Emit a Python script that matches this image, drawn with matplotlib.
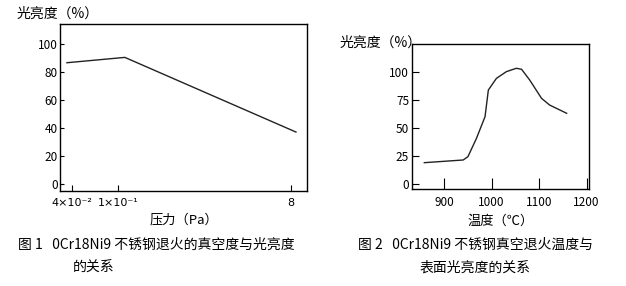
import matplotlib
matplotlib.use("Agg")
import matplotlib.pyplot as plt
import numpy as np

plt.rcParams['font.family'] = ['Noto Sans CJK SC', 'DejaVu Sans']
plt.rcParams['font.size'] = 8.5
plt.rcParams['axes.linewidth'] = 1.0

# fig 1: vacuum (Pa) vs brightness (%)
pressure = [0.0362, 0.119, 9.08]
bright1 = [86.4, 90.2, 37.0]
p_ticks = [0.04, 0.1, 8]
p_labels = ['4×10⁻²', '1×10⁻¹', '8']
y1_ticks = [0, 20, 40, 60, 80, 100]

# fig 2: temperature (C) vs brightness (%)
temp = [858, 940, 950, 968, 986, 993, 1010, 1031, 1052, 1063, 1080, 1105, 1122, 1158]
bright2 = [19.0, 21.4, 24.4, 40.8, 60.1, 83.9, 94.3, 100.3, 103.3, 102.4, 92.9, 76.5, 70.5, 63.1]
t_ticks = [900, 1000, 1100, 1200]
y2_ticks = [0, 25, 50, 75, 100]


# the pressure axis in the source is a squeezed log axis: low decade wider
def fwd(x):
    u = np.log10(np.clip(x, 1e-9, None))
    return np.where(u < -1, 1 + (u + 1) * 2.513, 1 + (u + 1) * 1.976)


def inv(v):
    u = np.where(v < 1, -1 + (v - 1) / 2.513, -1 + (v - 1) / 1.976)
    return 10 ** u


fig = plt.figure(figsize=(6.26, 2.86), dpi=100)

ax1 = fig.add_axes([0.0958, 0.3322, 0.3946, 0.5839])
ax1.plot(pressure, bright1, color='#222222', lw=1.0)
ax1.set_xscale('function', functions=(fwd, inv))
ax1.set_xlim(0.0315, 12.0)
ax1.set_ylim(-5, 114)
ax1.set_xticks(p_ticks)
ax1.set_xticklabels(p_labels, family=['DejaVu Sans'], fontsize=8)
ax1.minorticks_off()
ax1.set_yticks(y1_ticks)
ax1.tick_params(axis='x', direction='in', length=4, pad=5)
ax1.tick_params(axis='y', direction='in', length=3, pad=1.5)
ax1.set_xlabel('压力（Pa）', labelpad=4, fontsize=9.5)

ax2 = fig.add_axes([0.6581, 0.3392, 0.2827, 0.507])
ax2.plot(temp, bright2, color='#222222', lw=1.0)
ax2.set_xlim(832, 1205)
ax2.set_ylim(-4.5, 125)
ax2.set_xticks(t_ticks)
ax2.set_yticks(y2_ticks)
ax2.tick_params(axis='x', direction='in', length=8, pad=5)
ax2.tick_params(axis='y', direction='in', length=5, pad=2)
ax2.set_xlabel('温度（℃）', labelpad=4, fontsize=9.5)

fig.text(17/626, 1 - 14/286, '光亮度（%）', va='center', ha='left', fontsize=10)
fig.text(340/626, 1 - 43/286, '光亮度（%）', va='center', ha='left', fontsize=10)

fig.text(18/626, 1 - 245/286, '图 1   0Cr18Ni9 不锈钢退火的真空度与光亮度', va='center', ha='left', fontsize=10)
fig.text(73/626, 1 - 268/286, '的关系', va='center', ha='left', fontsize=10)
fig.text(358/626, 1 - 245/286, '图 2   0Cr18Ni9 不锈钢真空退火温度与', va='center', ha='left', fontsize=10)
fig.text(420/626, 1 - 268/286, '表面光亮度的关系', va='center', ha='left', fontsize=10)

fig.savefig('out.png', dpi=100)
